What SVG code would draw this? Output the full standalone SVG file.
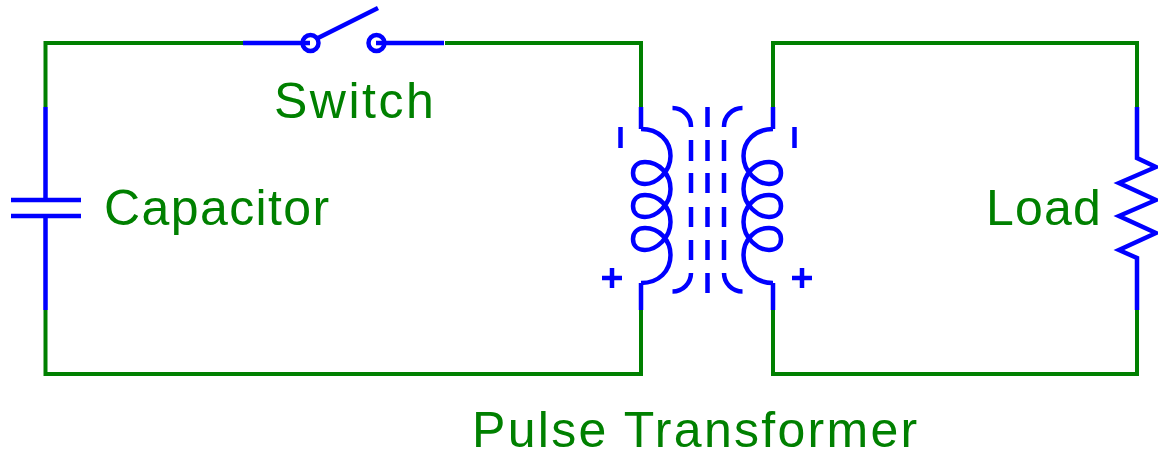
<svg xmlns="http://www.w3.org/2000/svg" width="1158" height="453" viewBox="0 0 1158 453">
<style>
.w{fill:none;stroke:#008000;stroke-width:4}
.b{fill:none;stroke:#0000ff;stroke-width:4.500}
text{font-family:"Liberation Sans",Arial,sans-serif;font-size:50px;fill:#008000}
</style>
<defs>
<path id="coil" d="M641 129C659 129 670.500 141 670.500 156C670.500 172 656 184 645 184C638 184 633 180 633 173C633 166 638 162 645 162C659 162 670.500 174 670.500 189C670.500 205 656 217 645 217C638 217 633 213 633 206C633 199 638 195 645 195C659 195 670.500 207 670.500 222C670.500 238 656 250 645 250C638 250 633 246 633 239C633 232 638 228 645 228C659 228 670.500 240 670.500 255C670.500 271 659 283 641 283"/>
<path id="side" d="M672.500 108A18.500 18.500 0 0 1 691 127M691 140V161M691 173V193M691 207V227M691 240V260M691 273A18.500 18.500 0 0 1 672.500 291.500"/>
</defs>
<g id="connectors">
<path class="w" d="M243 43H45.500V107M45.500 310V374H641V310M641 107V43H445"/>
<path class="w" d="M773 107V43H1137V107M1137 310V374H773V310"/>
</g>
<g id="switch">
<path class="b" d="M243 43H310M376 43H444M318 38L378 8"/>
<circle class="b" cx="310.500" cy="43" r="8"/>
<circle class="b" cx="376.500" cy="43" r="8"/>
<text x="274" y="118" letter-spacing="2.500">Switch</text>
</g>
<g id="capacitor">
<path class="b" d="M45.500 107V200M11 200H81M11 216H81M45.500 216V310"/>
<text x="104" y="225" letter-spacing="1.400">Capacitor</text>
</g>
<g id="transformer">
<path class="b" d="M641 107V129M641 283V310M773 107V129M773 283V310"/>
<use href="#coil" class="b"/>
<use href="#coil" class="b" transform="matrix(-1 0 0 1 1414 0)"/>
<use href="#side" class="b"/>
<use href="#side" class="b" transform="matrix(-1 0 0 1 1415 0)"/>
<path class="b" d="M707.500 107V127M707.500 140V161M707.500 173V193M707.500 207V227M707.500 240V260M707.500 273V293"/>
<path class="b" d="M620.500 127V148M794.500 127V148M602 278H622M612 268V288M792 278H812M802 268V288"/>
<text x="472" y="447" letter-spacing="2.300">Pulse Transformer</text>
</g>
<g id="load">
<path class="b" d="M1137 107V158L1156 167L1119 183L1156 200L1119 216L1156 233L1119 250L1137 258V310"/>
<text x="986" y="225" letter-spacing="1.200">Load</text>
</g>
</svg>
